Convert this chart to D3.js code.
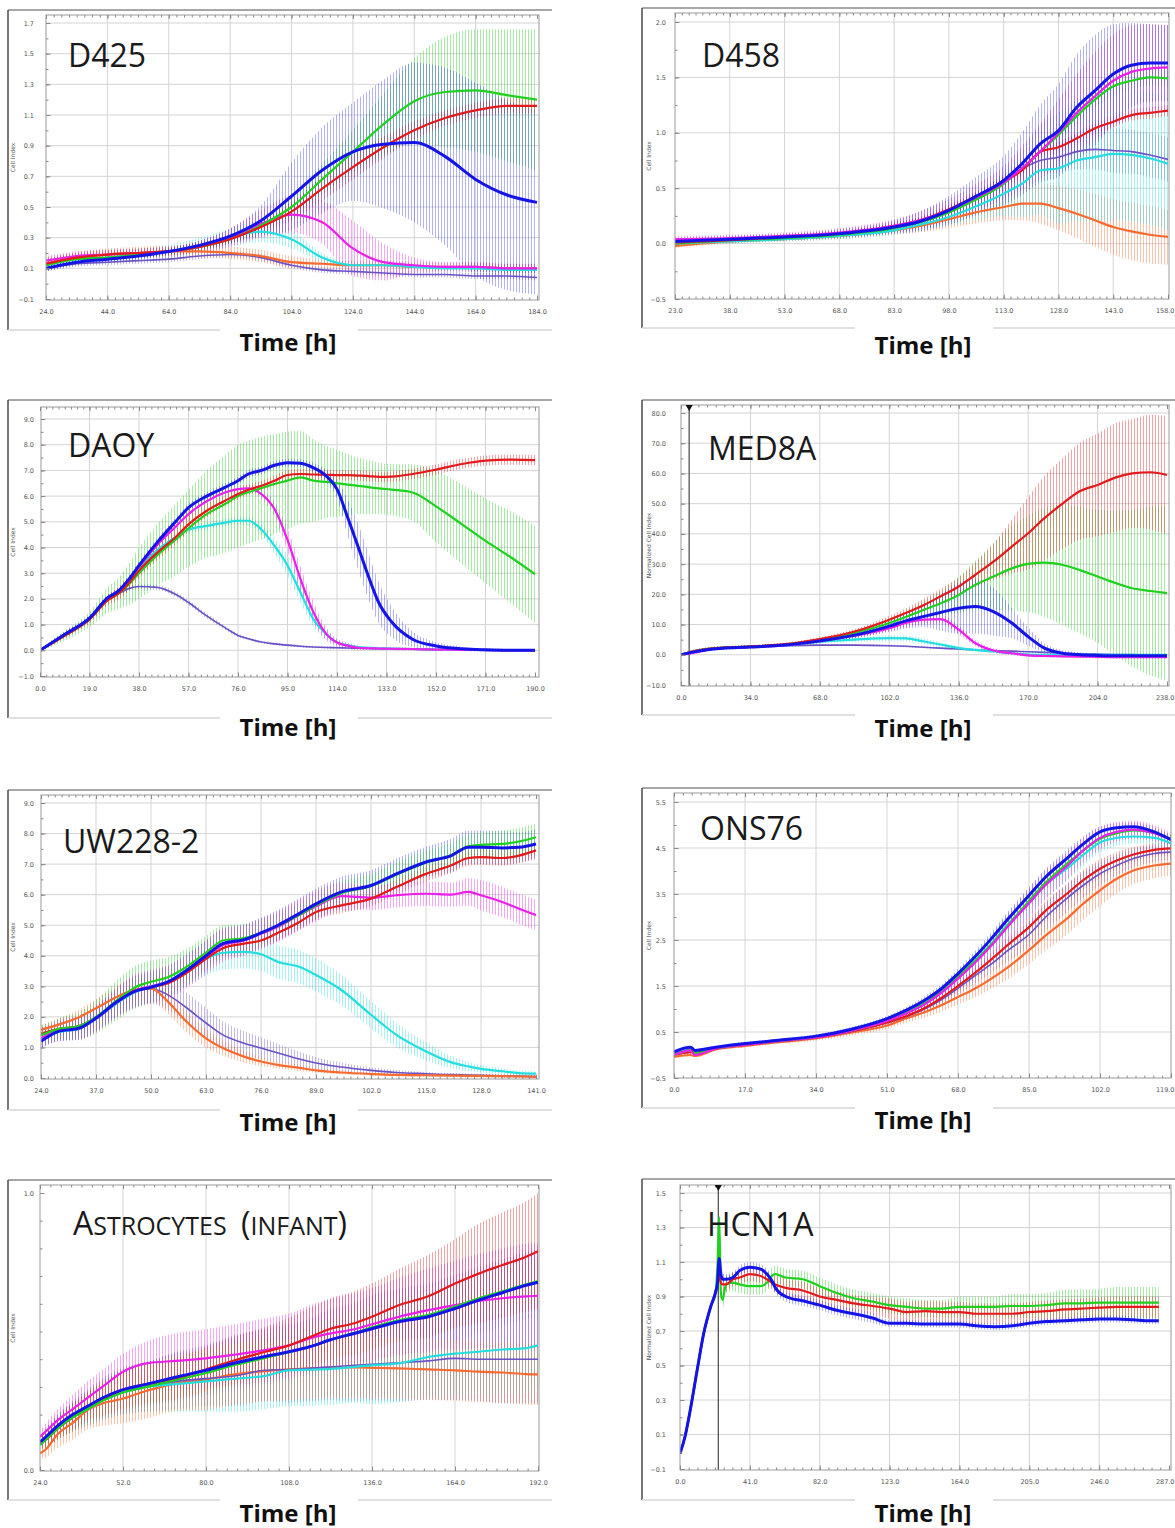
<!DOCTYPE html>
<html>
<head>
<meta charset="utf-8">
<script src="https://d3js.org/d3.v7.min.js"></script>
<style>
  body { margin: 0; background: #fff; }
</style>
</head>
<body>
<svg id="chart" width="1175" height="1528"></svg>
<script>

// Series colours
var seriesColors = {
    "red": "#e3191c",
    "green": "#1fd11f",
    "blue": "#1414e8",
    "magenta": "#ea1fea",
    "cyan": "#22dede",
    "purple": "#6a52c6",
    "orange": "#fa6a2e"
};
var lineWidths = {"red": 2.2, "green": 2.2, "blue": 3, "magenta": 2.2, "cyan": 2.2, "purple": 1.6, "orange": 2.2};

// ---------------- D425 ----------------
var d425Time = [24,34,44,54,64,74,84,94,104,114,124,134,144,154,164,174,184];
var d425XTicks = [24,44,64,84,104,124,144,164,184];
var d425YTicks = [-0.1,0.1,0.3,0.5,0.7,0.9,1.1,1.3,1.5,1.7];
var d425Blue = [0.10,0.14,0.16,0.18,0.21,0.25,0.31,0.41,0.57,0.74,0.86,0.91,0.92,0.83,0.68,0.58,0.53];
var d425BlueSd = [0.02,0.02,0.02,0.02,0.02,0.03,0.05,0.10,0.22,0.28,0.32,0.42,0.52,0.58,0.63,0.62,0.60];
var d425Green = [0.12,0.16,0.17,0.19,0.21,0.24,0.29,0.38,0.50,0.68,0.86,1.04,1.19,1.25,1.26,1.23,1.20];
var d425GreenSd = [0.02,0.02,0.02,0.02,0.02,0.02,0.03,0.04,0.06,0.10,0.14,0.20,0.28,0.36,0.40,0.43,0.46];
var d425Red = [0.13,0.17,0.19,0.20,0.21,0.24,0.29,0.37,0.47,0.62,0.76,0.89,1.00,1.08,1.13,1.16,1.16];
var d425RedSd = [0.03,0.03,0.03,0.03,0.03,0.03,0.03,0.04,0.06,0.08,0.08,0.07,0.06,0.05,0.05,0.05,0.05];
var d425Magenta = [0.15,0.18,0.19,0.20,0.21,0.24,0.30,0.39,0.45,0.40,0.23,0.14,0.12,0.11,0.11,0.10,0.10];
var d425MagentaSd = [0.03,0.03,0.03,0.03,0.03,0.04,0.06,0.09,0.12,0.14,0.18,0.12,0.05,0.03,0.03,0.03,0.03];
var d425Cyan = [0.12,0.16,0.17,0.19,0.21,0.25,0.30,0.34,0.29,0.17,0.12,0.12,0.11,0.10,0.10,0.09,0.09];
var d425CyanSd = [0.03,0.03,0.03,0.03,0.04,0.05,0.06,0.07,0.06,0.03,0.02,0.02,0.02,0.02,0.02,0.02,0.02];
var d425Orange = [0.13,0.17,0.19,0.20,0.21,0.21,0.20,0.18,0.14,0.13,0.12,0.12,0.11,0.11,0.11,0.10,0.10];
var d425OrangeSd = [0.04,0.04,0.04,0.04,0.04,0.04,0.04,0.04,0.04,0.03,0.03,0.03,0.03,0.03,0.03,0.03,0.03];
var d425Purple = [0.10,0.13,0.14,0.15,0.16,0.18,0.19,0.17,0.12,0.09,0.08,0.07,0.06,0.06,0.05,0.05,0.04];
var d425PurpleSd = [0.02,0.02,0.02,0.02,0.02,0.02,0.02,0.02,0.02,0.02,0.02,0.02,0.02,0.02,0.02,0.02,0.02];

// ---------------- D458 ----------------
var d458Time = [23,38,53,68,83,90,98,105,113,118,123,128,133,138,143,148,153,158];
var d458XTicks = [23,38,53,68,83,98,113,128,143,158];
var d458YTicks = [-0.5,0.0,0.5,1.0,1.5,2.0];
var d458Blue = [0.02,0.04,0.06,0.09,0.15,0.20,0.30,0.42,0.57,0.72,0.90,1.02,1.23,1.38,1.53,1.61,1.63,1.63];
var d458BlueSd = [0.03,0.03,0.03,0.04,0.06,0.09,0.13,0.17,0.22,0.28,0.35,0.42,0.48,0.50,0.45,0.38,0.35,0.34];
var d458Magenta = [0.04,0.05,0.07,0.10,0.16,0.21,0.30,0.41,0.55,0.68,0.83,1.00,1.18,1.33,1.47,1.55,1.58,1.59];
var d458MagentaSd = [0.03,0.03,0.03,0.04,0.06,0.08,0.10,0.12,0.15,0.20,0.25,0.30,0.35,0.40,0.42,0.42,0.40,0.38];
var d458Green = [0.00,0.03,0.05,0.08,0.14,0.19,0.28,0.39,0.54,0.68,0.83,0.98,1.15,1.30,1.42,1.47,1.50,1.49];
var d458GreenSd = [0.02,0.02,0.02,0.02,0.03,0.03,0.04,0.04,0.05,0.05,0.06,0.06,0.07,0.07,0.08,0.08,0.08,0.08];
var d458Red = [0.01,0.03,0.06,0.09,0.16,0.21,0.31,0.42,0.56,0.66,0.83,0.87,0.95,1.04,1.10,1.16,1.18,1.20];
var d458RedSd = [0.02,0.02,0.02,0.02,0.03,0.03,0.04,0.04,0.05,0.05,0.05,0.05,0.05,0.05,0.05,0.05,0.05,0.05];
var d458Purple = [0.02,0.04,0.06,0.09,0.15,0.20,0.29,0.40,0.55,0.67,0.75,0.78,0.83,0.85,0.84,0.83,0.80,0.76];
var d458PurpleSd = [0.02,0.02,0.02,0.03,0.03,0.04,0.05,0.06,0.08,0.10,0.12,0.14,0.16,0.18,0.20,0.20,0.20,0.20];
var d458Cyan = [0.00,0.02,0.04,0.07,0.12,0.17,0.24,0.33,0.45,0.54,0.66,0.68,0.75,0.78,0.81,0.80,0.77,0.72];
var d458CyanSd = [0.02,0.02,0.02,0.03,0.04,0.05,0.08,0.12,0.20,0.30,0.40,0.50,0.55,0.58,0.60,0.60,0.60,0.60];
var d458Orange = [-0.02,0.02,0.04,0.07,0.12,0.16,0.22,0.28,0.33,0.36,0.36,0.32,0.27,0.21,0.15,0.11,0.08,0.06];
var d458OrangeSd = [0.02,0.02,0.02,0.03,0.04,0.06,0.08,0.10,0.12,0.15,0.18,0.20,0.22,0.24,0.25,0.26,0.26,0.25];

// ---------------- DAOY ----------------
var daoyTime = [0,10,19,26,30,34,38,45,52,57,64,71,76,80,85,90,95,100,105,110,114,118,122,126,130,135,143,152,162,171,181,190];
var daoyXTicks = [0,19,38,57,76,95,114,133,152,171,190];
var daoyYTicks = [-1,0,1,2,3,4,5,6,7,8,9];
var daoyBlue = [0.0,0.65,1.25,2.05,2.3,2.75,3.3,4.2,5.0,5.55,6.0,6.34,6.6,6.86,7.0,7.2,7.3,7.28,7.1,6.77,6.27,5.2,4.06,2.9,1.86,1.1,0.43,0.17,0.06,0.02,0.0,0.0];
var daoyBlueSd = [0.05,0.1,0.1,0.1,0.1,0.1,0.15,0.15,0.15,0.15,0.15,0.15,0.15,0.15,0.15,0.15,0.15,0.15,0.2,0.25,0.35,0.7,0.9,0.9,0.8,0.6,0.3,0.15,0.08,0.05,0.05,0.05];
var daoyRed = [0.0,0.6,1.2,1.95,2.2,2.6,3.1,3.8,4.4,4.9,5.43,5.82,6.08,6.25,6.4,6.6,6.82,6.86,6.84,6.83,6.82,6.82,6.8,6.78,6.75,6.76,6.86,7.03,7.25,7.38,7.42,7.4];
var daoyRedSd = [0.05,0.1,0.15,0.2,0.25,0.3,0.3,0.3,0.3,0.3,0.25,0.2,0.2,0.2,0.2,0.2,0.2,0.2,0.2,0.2,0.2,0.2,0.2,0.2,0.2,0.2,0.2,0.2,0.2,0.2,0.2,0.2];
var daoyGreen = [0.0,0.6,1.2,1.95,2.2,2.55,3.0,3.7,4.3,4.75,5.3,5.69,6.0,6.15,6.31,6.47,6.6,6.73,6.6,6.55,6.5,6.45,6.4,6.35,6.3,6.25,6.14,5.6,4.9,4.26,3.6,2.96];
var daoyGreenSd = [0.05,0.2,0.3,0.5,0.6,0.8,1.0,1.2,1.4,1.5,1.7,1.9,2.0,2.0,2.0,1.95,1.9,1.8,1.6,1.4,1.3,1.2,1.1,1.05,1.0,1.0,1.1,1.4,1.55,1.65,1.8,1.9];
var daoyMagenta = [0.0,0.65,1.25,2.05,2.3,2.75,3.25,4.1,4.8,5.3,5.8,6.14,6.27,6.3,6.08,5.5,4.3,2.77,1.47,0.62,0.3,0.18,0.1,0.08,0.07,0.06,0.05,0.03,0.02,0.01,0.0,0.0];
var daoyMagentaSd = [0.05,0.1,0.1,0.1,0.1,0.12,0.15,0.15,0.15,0.15,0.15,0.15,0.15,0.15,0.2,0.3,0.45,0.5,0.4,0.25,0.15,0.1,0.08,0.05,0.05,0.05,0.05,0.05,0.05,0.05,0.05,0.05];
var daoyCyan = [0.0,0.65,1.25,2.05,2.3,2.7,3.2,3.9,4.4,4.7,4.84,4.97,5.04,5.04,4.7,4.06,3.3,2.25,1.2,0.62,0.3,0.2,0.12,0.1,0.08,0.07,0.05,0.03,0.02,0.01,0.0,0.0];
var daoyCyanSd = [0.05,0.1,0.1,0.1,0.1,0.12,0.15,0.15,0.15,0.15,0.15,0.15,0.15,0.15,0.2,0.3,0.4,0.4,0.3,0.2,0.12,0.1,0.08,0.05,0.05,0.05,0.05,0.05,0.05,0.05,0.05,0.05];
var daoyPurple = [0.0,0.65,1.25,2.0,2.2,2.4,2.48,2.45,2.18,1.86,1.34,0.88,0.58,0.45,0.32,0.25,0.2,0.16,0.13,0.11,0.1,0.09,0.08,0.07,0.06,0.06,0.04,0.03,0.02,0.01,0.0,0.0];
var daoyPurpleSd = [0.05,0.1,0.1,0.1,0.1,0.1,0.1,0.1,0.1,0.1,0.1,0.08,0.06,0.05,0.05,0.05,0.05,0.05,0.05,0.05,0.05,0.05,0.05,0.05,0.05,0.05,0.05,0.05,0.05,0.05,0.05,0.05];

// ---------------- MED8A ----------------
var med8aTime = [0,5,17,34,51,68,85,102,110,119,127,136,144,153,162,170,178,187,195,204,213,221,230,238];
var med8aXTicks = [0,34,68,102,136,170,204,238];
var med8aYTicks = [-10,0,10,20,30,40,50,60,70,80];
var med8aEvents = [4];
var med8aRed = [0,1.0,2.2,2.75,3.5,5.2,7.7,11.6,13.8,16.5,19.3,22.6,26.4,30.8,35.8,40.2,45.2,50.1,54.0,56.2,58.7,60.0,60.4,59.5];
var med8aRedSd = [0.5,0.5,0.5,0.5,0.5,0.6,0.8,1.2,1.5,2.0,2.5,3.0,4.0,6.0,9.0,12.0,14.0,15.0,16.0,17.0,18.0,18.0,19.0,19.5];
var med8aGreen = [0,1.0,2.2,2.7,3.4,5.0,7.2,10.5,12.5,14.9,17.0,19.8,23.1,25.9,28.6,30.1,30.5,29.7,28.1,25.9,23.7,22.0,21.1,20.4];
var med8aGreenSd = [0.5,0.5,0.5,0.5,0.5,0.6,0.8,1.2,2.0,3.0,4.0,6.0,8.0,11.0,14.0,16.0,18.0,20.0,21.0,22.0,24.0,26.0,28.0,29.0];
var med8aBlue = [0,0.8,2.0,2.6,3.2,4.6,6.5,9.5,11.2,12.7,14.0,15.4,16.0,14.3,10.5,6.0,2.2,0.5,0.0,-0.2,-0.3,-0.3,-0.3,-0.3];
var med8aBlueSd = [0.5,0.5,0.5,0.5,0.5,0.6,1.0,2.0,2.5,3.5,6.0,8.5,9.0,8.0,5.0,3.0,1.5,1.0,0.8,0.6,0.5,0.5,0.5,0.5];
var med8aMagenta = [0,0.5,2.0,2.6,3.2,4.5,6.3,8.8,10.5,11.6,11.8,8.3,3.9,1.4,0.5,-0.2,-0.4,-0.5,-0.6,-0.7,-0.8,-0.8,-0.8,-0.8];
var med8aMagentaSd = [0.5,0.5,0.5,0.5,0.5,0.6,0.8,1.0,1.5,1.5,1.5,1.5,1.0,0.8,0.6,0.5,0.5,0.5,0.5,0.5,0.5,0.5,0.5,0.5];
var med8aCyan = [0,0.7,2.0,2.6,3.3,4.3,5.0,5.5,5.4,4.4,3.4,2.2,1.6,1.1,0.5,0.1,0,0,0,0,0,0,0,0];
var med8aCyanSd = [0.5,0.5,0.5,0.5,0.5,0.6,0.8,1.0,1.0,1.0,0.8,0.6,0.5,0.5,0.5,0.5,0.5,0.5,0.5,0.5,0.5,0.5,0.5,0.5];
var med8aPurple = [0,0.7,2.0,2.5,3.0,3.2,3.2,3.0,2.8,2.5,2.2,1.9,1.6,1.4,1.2,1.0,0.8,0.5,0.3,0.2,0.1,0.05,0,0];
var med8aPurpleSd = [0.3,0.3,0.3,0.3,0.3,0.3,0.3,0.3,0.3,0.3,0.3,0.3,0.3,0.3,0.3,0.3,0.3,0.3,0.3,0.3,0.3,0.3,0.3,0.3];

// ---------------- UW228-2 ----------------
var uw228Time = [24,28,33,37,42,46,50,54,58,63,67,72,76,80,85,89,95,102,108,115,121,125,128,133,137,141];
var uw228XTicks = [24,37,50,63,76,89,102,115,128,141];
var uw228YTicks = [0,1,2,3,4,5,6,7,8,9];
var uw228Blue = [1.20,1.52,1.63,1.96,2.50,2.83,2.97,3.15,3.48,4.00,4.40,4.53,4.75,5.00,5.38,5.70,6.09,6.30,6.68,7.07,7.28,7.55,7.55,7.53,7.55,7.66];
var uw228BlueSd = [0.25,0.3,0.35,0.4,0.45,0.5,0.5,0.5,0.5,0.5,0.5,0.5,0.5,0.5,0.5,0.5,0.5,0.5,0.5,0.5,0.55,0.55,0.55,0.55,0.5,0.5];
var uw228Green = [1.40,1.60,1.70,2.00,2.55,2.95,3.15,3.30,3.60,4.10,4.50,4.58,4.75,4.98,5.33,5.65,6.05,6.28,6.65,7.05,7.30,7.58,7.63,7.66,7.74,7.88];
var uw228GreenSd = [0.3,0.35,0.45,0.55,0.65,0.7,0.7,0.65,0.6,0.55,0.5,0.45,0.45,0.4,0.4,0.4,0.4,0.4,0.4,0.4,0.4,0.4,0.4,0.45,0.45,0.45];
var uw228Red = [1.45,1.60,1.70,1.98,2.50,2.85,2.97,3.10,3.40,3.90,4.25,4.40,4.50,4.75,5.10,5.43,5.65,5.87,6.25,6.68,6.96,7.20,7.23,7.20,7.28,7.45];
var uw228RedSd = [0.2,0.2,0.25,0.3,0.3,0.3,0.3,0.3,0.3,0.3,0.25,0.25,0.25,0.25,0.25,0.25,0.25,0.25,0.25,0.25,0.25,0.25,0.25,0.25,0.25,0.25];
var uw228Magenta = [1.30,1.55,1.65,1.95,2.48,2.85,3.00,3.15,3.45,3.95,4.35,4.50,4.72,4.95,5.33,5.62,5.95,5.90,5.98,6.03,6.00,6.09,5.98,5.76,5.54,5.33];
var uw228MagentaSd = [0.3,0.35,0.4,0.45,0.5,0.55,0.55,0.55,0.55,0.55,0.55,0.5,0.5,0.5,0.5,0.5,0.45,0.4,0.4,0.4,0.4,0.45,0.5,0.5,0.5,0.5];
var uw228Cyan = [1.30,1.50,1.62,1.95,2.45,2.80,3.00,3.15,3.50,3.90,4.10,4.13,4.05,3.80,3.64,3.37,2.88,2.07,1.41,0.87,0.51,0.38,0.30,0.22,0.16,0.14];
var uw228CyanSd = [0.25,0.3,0.3,0.35,0.4,0.45,0.5,0.5,0.55,0.55,0.55,0.55,0.55,0.55,0.55,0.55,0.5,0.45,0.4,0.3,0.2,0.15,0.12,0.1,0.08,0.08];
var uw228Purple = [1.20,1.50,1.60,1.92,2.45,2.80,2.93,2.72,2.34,1.80,1.41,1.14,0.98,0.82,0.62,0.49,0.36,0.25,0.18,0.14,0.11,0.10,0.09,0.07,0.06,0.05];
var uw228PurpleSd = [0.2,0.3,0.35,0.4,0.45,0.5,0.5,0.5,0.5,0.5,0.45,0.4,0.35,0.3,0.25,0.2,0.15,0.1,0.08,0.06,0.05,0.05,0.05,0.05,0.05,0.05];
var uw228Orange = [1.58,1.74,1.99,2.28,2.66,2.88,2.93,2.50,1.90,1.30,0.98,0.70,0.54,0.43,0.33,0.25,0.18,0.13,0.10,0.09,0.08,0.07,0.07,0.06,0.05,0.04];
var uw228OrangeSd = [0.15,0.2,0.25,0.3,0.35,0.4,0.4,0.4,0.35,0.3,0.25,0.2,0.15,0.12,0.1,0.08,0.06,0.05,0.05,0.05,0.05,0.05,0.05,0.05,0.05,0.05];

// ---------------- ONS76 ----------------
var ons76Time = [0,4,5,10,17,25,34,42,51,56,60,64,68,72,76,80,85,89,94,98,102,106,110,115,119];
var ons76XTicks = [0,17,34,51,68,85,102,119];
var ons76YTicks = [-0.5,0.5,1.5,2.5,3.5,4.5,5.5];
var ons76Blue = [0.07,0.17,0.10,0.17,0.25,0.32,0.41,0.55,0.79,0.99,1.19,1.44,1.77,2.13,2.53,2.96,3.47,3.87,4.27,4.59,4.85,4.94,4.96,4.85,4.68];
var ons76BlueSd = [0.03,0.03,0.03,0.03,0.03,0.03,0.04,0.05,0.06,0.07,0.08,0.09,0.10,0.12,0.14,0.16,0.18,0.18,0.18,0.16,0.12,0.10,0.10,0.10,0.10];
var ons76Magenta = [0.00,0.10,0.00,0.14,0.22,0.30,0.38,0.52,0.74,0.92,1.10,1.35,1.66,2.00,2.38,2.80,3.30,3.70,4.10,4.45,4.72,4.85,4.90,4.82,4.68];
var ons76MagentaSd = [0.03,0.03,0.03,0.03,0.03,0.03,0.04,0.05,0.06,0.08,0.10,0.12,0.15,0.18,0.22,0.28,0.32,0.32,0.30,0.28,0.25,0.22,0.20,0.18,0.15];
var ons76Green = [0.00,0.10,0.05,0.15,0.23,0.30,0.39,0.53,0.75,0.93,1.12,1.37,1.70,2.03,2.40,2.82,3.35,3.75,4.15,4.45,4.70,4.82,4.88,4.83,4.70];
var ons76GreenSd = [0.03,0.03,0.03,0.03,0.03,0.03,0.04,0.04,0.05,0.06,0.07,0.08,0.09,0.10,0.12,0.14,0.15,0.15,0.15,0.14,0.12,0.10,0.10,0.10,0.10];
var ons76Cyan = [0.02,0.12,0.06,0.15,0.23,0.31,0.40,0.54,0.77,0.95,1.14,1.40,1.72,2.05,2.42,2.85,3.30,3.70,4.05,4.35,4.62,4.72,4.75,4.72,4.60];
var ons76CyanSd = [0.03,0.03,0.03,0.03,0.03,0.03,0.04,0.05,0.06,0.07,0.09,0.11,0.14,0.18,0.22,0.26,0.30,0.30,0.28,0.25,0.22,0.18,0.15,0.14,0.12];
var ons76Red = [0.00,0.06,0.05,0.14,0.22,0.30,0.38,0.51,0.71,0.86,1.02,1.24,1.50,1.78,2.08,2.40,2.78,3.14,3.50,3.80,4.05,4.23,4.36,4.46,4.49];
var ons76RedSd = [0.03,0.03,0.03,0.03,0.03,0.03,0.04,0.05,0.06,0.07,0.08,0.10,0.12,0.14,0.16,0.18,0.20,0.22,0.22,0.22,0.20,0.18,0.16,0.15,0.14];
var ons76Purple = [0.00,0.06,0.05,0.14,0.22,0.30,0.38,0.50,0.70,0.85,1.00,1.20,1.45,1.72,1.98,2.28,2.62,3.00,3.40,3.69,3.94,4.12,4.27,4.38,4.41];
var ons76PurpleSd = [0.03,0.03,0.03,0.03,0.03,0.03,0.04,0.05,0.06,0.08,0.10,0.12,0.14,0.17,0.20,0.24,0.28,0.30,0.30,0.28,0.25,0.22,0.20,0.18,0.16];
var ons76Orange = [-0.04,0.00,-0.02,0.12,0.20,0.28,0.36,0.48,0.64,0.81,0.93,1.08,1.26,1.44,1.66,1.91,2.28,2.60,2.96,3.29,3.58,3.83,4.01,4.12,4.16];
var ons76OrangeSd = [0.03,0.03,0.03,0.03,0.03,0.04,0.05,0.06,0.08,0.10,0.12,0.14,0.16,0.19,0.22,0.26,0.30,0.33,0.35,0.35,0.34,0.32,0.30,0.28,0.26];

// ---------------- Astrocytes (infant) ----------------
var astroTime = [24,26,30,35,40,45,52,60,70,80,90,100,108,115,122,130,136,145,155,164,172,180,188,192];
var astroXTicks = [24,52,80,108,136,164,192];
var astroYTicks = [0,1];
var astroMagenta = [0.12,0.14,0.18,0.22,0.26,0.30,0.355,0.385,0.394,0.403,0.417,0.433,0.45,0.475,0.493,0.508,0.526,0.553,0.577,0.595,0.61,0.62,0.627,0.629];
var astroMagentaSd = [0.02,0.03,0.04,0.05,0.06,0.06,0.065,0.08,0.1,0.105,0.11,0.115,0.115,0.12,0.125,0.13,0.13,0.14,0.15,0.16,0.17,0.18,0.19,0.19];
var astroRed = [0.096,0.11,0.15,0.19,0.23,0.255,0.29,0.31,0.33,0.363,0.397,0.427,0.45,0.48,0.51,0.53,0.553,0.595,0.627,0.673,0.709,0.74,0.77,0.79];
var astroRedSd = [0.02,0.03,0.04,0.05,0.05,0.06,0.07,0.07,0.075,0.08,0.085,0.09,0.1,0.105,0.11,0.115,0.12,0.13,0.15,0.16,0.18,0.19,0.2,0.21];
var astroBlue = [0.10,0.12,0.16,0.20,0.23,0.26,0.29,0.31,0.336,0.36,0.387,0.41,0.427,0.445,0.47,0.493,0.51,0.535,0.553,0.583,0.613,0.64,0.667,0.678];
var astroBlueSd = [0.02,0.03,0.04,0.05,0.06,0.07,0.08,0.08,0.09,0.09,0.1,0.1,0.1,0.1,0.11,0.11,0.12,0.12,0.12,0.12,0.12,0.12,0.12,0.12];
var astroGreen = [0.09,0.11,0.15,0.19,0.22,0.25,0.28,0.30,0.325,0.35,0.38,0.405,0.425,0.445,0.47,0.495,0.515,0.54,0.56,0.59,0.62,0.645,0.67,0.682];
var astroGreenSd = [0.02,0.03,0.04,0.05,0.05,0.06,0.06,0.07,0.07,0.07,0.08,0.08,0.08,0.08,0.08,0.08,0.08,0.08,0.08,0.08,0.08,0.08,0.08,0.08];
var astroCyan = [0.09,0.11,0.15,0.19,0.22,0.25,0.28,0.30,0.31,0.32,0.33,0.34,0.36,0.362,0.365,0.372,0.378,0.385,0.408,0.42,0.427,0.435,0.44,0.45];
var astroCyanSd = [0.02,0.03,0.04,0.05,0.06,0.07,0.08,0.09,0.1,0.11,0.12,0.12,0.13,0.13,0.13,0.13,0.14,0.14,0.14,0.15,0.15,0.16,0.16,0.16];
var astroPurple = [0.10,0.12,0.16,0.19,0.22,0.25,0.28,0.30,0.32,0.33,0.34,0.36,0.363,0.367,0.372,0.378,0.382,0.387,0.394,0.403,0.40,0.40,0.40,0.40];
var astroPurpleSd = [0.02,0.03,0.04,0.05,0.06,0.07,0.08,0.09,0.1,0.1,0.11,0.11,0.12,0.12,0.12,0.13,0.13,0.14,0.14,0.15,0.15,0.16,0.16,0.16];
var astroOrange = [0.06,0.075,0.13,0.17,0.216,0.24,0.258,0.286,0.313,0.327,0.346,0.357,0.363,0.367,0.37,0.37,0.369,0.367,0.363,0.36,0.355,0.352,0.346,0.345];
var astroOrangeSd = [0.02,0.03,0.05,0.06,0.07,0.08,0.09,0.1,0.1,0.11,0.11,0.11,0.11,0.11,0.11,0.11,0.11,0.11,0.11,0.11,0.11,0.11,0.11,0.11];

// ---------------- HCN1A ----------------
var hcn1aTime = [0,3,6,10,14,18,21,22,23,24,25,27,31,35,41,47,51,54,56,62,72,82,92,102,113,123,133,144,154,164,174,185,195,205,215,226,236,246,256,266,276,281];
var hcn1aXTicks = [0,41,82,123,164,205,246,287];
var hcn1aYTicks = [-0.1,0.1,0.3,0.5,0.7,0.9,1.1,1.3,1.5];
var hcn1aEvents = [22.5];
var hcn1aBlue = [-0.01,0.09,0.24,0.47,0.69,0.84,0.93,0.98,1.12,1.03,1.00,1.00,1.01,1.05,1.07,1.06,1.03,0.99,0.95,0.90,0.875,0.85,0.82,0.80,0.775,0.745,0.745,0.74,0.74,0.74,0.73,0.725,0.73,0.745,0.755,0.76,0.765,0.77,0.77,0.765,0.76,0.76];
var hcn1aBlueSd = [0.02,0.02,0.02,0.02,0.02,0.02,0.02,0.03,0.05,0.04,0.03,0.03,0.03,0.03,0.03,0.03,0.03,0.03,0.03,0.03,0.03,0.03,0.03,0.03,0.03,0.02,0.02,0.02,0.02,0.02,0.02,0.02,0.02,0.02,0.02,0.02,0.02,0.02,0.02,0.02,0.02,0.02];
var hcn1aRed = [-0.01,0.09,0.24,0.47,0.69,0.84,0.93,0.97,1.02,0.98,0.97,0.97,1.00,1.01,1.03,1.02,1.00,0.98,0.97,0.95,0.935,0.90,0.88,0.86,0.845,0.83,0.81,0.815,0.81,0.81,0.80,0.80,0.80,0.81,0.815,0.825,0.83,0.835,0.84,0.84,0.84,0.84];
var hcn1aRedSd = [0.02,0.02,0.02,0.02,0.02,0.02,0.02,0.04,0.05,0.04,0.04,0.04,0.04,0.04,0.04,0.04,0.04,0.04,0.05,0.05,0.05,0.05,0.05,0.05,0.05,0.06,0.06,0.06,0.06,0.06,0.06,0.06,0.06,0.06,0.06,0.06,0.06,0.06,0.06,0.06,0.06,0.06];
var hcn1aGreen = [-0.01,0.09,0.24,0.47,0.69,0.84,0.93,1.08,1.36,0.92,0.88,0.97,0.98,0.97,0.96,0.96,0.98,1.02,1.03,1.01,1.00,0.96,0.92,0.89,0.87,0.85,0.84,0.83,0.83,0.84,0.84,0.84,0.845,0.845,0.85,0.86,0.86,0.865,0.865,0.865,0.865,0.865];
var hcn1aGreenSd = [0.02,0.02,0.02,0.02,0.02,0.02,0.02,0.08,0.08,0.06,0.05,0.05,0.05,0.05,0.05,0.05,0.05,0.05,0.05,0.05,0.05,0.05,0.05,0.05,0.05,0.05,0.05,0.05,0.05,0.06,0.06,0.06,0.07,0.07,0.07,0.08,0.08,0.08,0.09,0.09,0.09,0.09];

// Panel layout (page pixels), built from the arrays above
var panels = [
    {title: "D425", time: d425Time, xTicks: d425XTicks, yTicks: d425YTicks, yMinor: 0.1, yLabel: "Cell Index",
     series: [["purple", d425Purple, d425PurpleSd], ["orange", d425Orange, d425OrangeSd], ["cyan", d425Cyan, d425CyanSd],
              ["magenta", d425Magenta, d425MagentaSd], ["green", d425Green, d425GreenSd], ["red", d425Red, d425RedSd], ["blue", d425Blue, d425BlueSd]],
     frame: [8, 552, 10, 330], box: [46, 539, 15, 300], xRange: [46, 537], yRange: [299, 23], titlePos: [68, 67], timeY: 351, events: []},
    {title: "D458", time: d458Time, xTicks: d458XTicks, yTicks: d458YTicks, yMinor: 0.25, yLabel: "Cell Index",
     series: [["purple", d458Purple, d458PurpleSd], ["orange", d458Orange, d458OrangeSd], ["cyan", d458Cyan, d458CyanSd],
              ["green", d458Green, d458GreenSd], ["red", d458Red, d458RedSd], ["magenta", d458Magenta, d458MagentaSd], ["blue", d458Blue, d458BlueSd]],
     frame: [642, 1175, 8, 328], box: [675, 1169, 13, 299], xRange: [675, 1168], yRange: [299, 22], titlePos: [702, 67], timeY: 354, events: []},
    {title: "DAOY", time: daoyTime, xTicks: daoyXTicks, yTicks: daoyYTicks, yMinor: 0.5, yLabel: "Cell Index",
     series: [["purple", daoyPurple, daoyPurpleSd], ["cyan", daoyCyan, daoyCyanSd], ["magenta", daoyMagenta, daoyMagentaSd],
              ["green", daoyGreen, daoyGreenSd], ["red", daoyRed, daoyRedSd], ["blue", daoyBlue, daoyBlueSd]],
     frame: [8, 552, 400, 718], box: [41, 539, 407, 677], xRange: [40, 535], yRange: [676, 419], titlePos: [68, 457], timeY: 736, events: []},
    {title: "MED8A", time: med8aTime, xTicks: med8aXTicks, yTicks: med8aYTicks, yMinor: 5, yLabel: "Normalized Cell Index",
     series: [["purple", med8aPurple, med8aPurpleSd], ["cyan", med8aCyan, med8aCyanSd], ["magenta", med8aMagenta, med8aMagentaSd],
              ["green", med8aGreen, med8aGreenSd], ["red", med8aRed, med8aRedSd], ["blue", med8aBlue, med8aBlueSd]],
     frame: [642, 1175, 400, 715], box: [681, 1169, 405, 686], xRange: [681, 1167], yRange: [685, 413], titlePos: [708, 460], timeY: 737, events: med8aEvents},
    {title: "UW228-2", time: uw228Time, xTicks: uw228XTicks, yTicks: uw228YTicks, yMinor: 0.5, yLabel: "Cell Index",
     series: [["purple", uw228Purple, uw228PurpleSd], ["orange", uw228Orange, uw228OrangeSd], ["cyan", uw228Cyan, uw228CyanSd],
              ["magenta", uw228Magenta, uw228MagentaSd], ["red", uw228Red, uw228RedSd], ["green", uw228Green, uw228GreenSd], ["blue", uw228Blue, uw228BlueSd]],
     bandOrder: ["blue", "red", "purple", "orange", "cyan", "green", "magenta"],
     frame: [8, 552, 790, 1110], box: [41, 539, 795, 1079], xRange: [41, 536], yRange: [1078, 803], titlePos: [63, 853], timeY: 1131, events: []},
    {title: "ONS76", time: ons76Time, xTicks: ons76XTicks, yTicks: ons76YTicks, yMinor: 0.5, yLabel: "Cell Index",
     series: [["orange", ons76Orange, ons76OrangeSd], ["purple", ons76Purple, ons76PurpleSd], ["red", ons76Red, ons76RedSd],
              ["cyan", ons76Cyan, ons76CyanSd], ["green", ons76Green, ons76GreenSd], ["magenta", ons76Magenta, ons76MagentaSd], ["blue", ons76Blue, ons76BlueSd]],
     bandOrder: ["blue", "green", "red", "purple", "orange", "cyan", "magenta"],
     frame: [642, 1175, 788, 1108], box: [674, 1171, 793, 1078], xRange: [674, 1171], yRange: [1078, 802], titlePos: [700, 840], timeY: 1129, events: []},
    {title: "ASTRO", time: astroTime, xTicks: astroXTicks, yTicks: astroYTicks, yMinor: 0.1, yLabel: "Cell Index", noHGrid: true,
     series: [["orange", astroOrange, astroOrangeSd], ["purple", astroPurple, astroPurpleSd], ["cyan", astroCyan, astroCyanSd],
              ["magenta", astroMagenta, astroMagentaSd], ["red", astroRed, astroRedSd], ["green", astroGreen, astroGreenSd], ["blue", astroBlue, astroBlueSd]],
     bandOrder: ["blue", "green", "purple", "cyan", "magenta", "red", "orange"],
     frame: [8, 552, 1180, 1500], box: [40, 539, 1185, 1471], xRange: [40, 538], yRange: [1470, 1193], titlePos: [73, 1235], timeY: 1522, events: []},
    {title: "HCN1A", time: hcn1aTime, xTicks: hcn1aXTicks, yTicks: hcn1aYTicks, yMinor: 0.1, yLabel: "Normalized Cell Index",
     series: [["green", hcn1aGreen, hcn1aGreenSd], ["red", hcn1aRed, hcn1aRedSd], ["blue", hcn1aBlue, hcn1aBlueSd]],
     frame: [642, 1175, 1179, 1500], box: [680, 1171, 1185, 1470], xRange: [680, 1169], yRange: [1469, 1193], titlePos: [707, 1236], timeY: 1522, events: hcn1aEvents}
];

var svg = d3.select("#chart");
var defs = svg.append("defs");
var fmt = d3.format(".1f");

// Hatch patterns for the error bars (all series share the same bar positions)
Object.keys(seriesColors).forEach(function (name) {
    var pat = defs.append("pattern")
        .attr("id", "hatch-" + name)
        .attr("patternUnits", "userSpaceOnUse")
        .attr("width", 3)
        .attr("height", 4);
    pat.append("line")
        .attr("x1", 0.5).attr("x2", 0.5)
        .attr("y1", 0).attr("y2", 4)
        .attr("stroke", seriesColors[name])
        .attr("stroke-width", 1)
        .attr("stroke-opacity", name === "blue" ? 0.33 : 0.4);
});

// Draw one panel
var drawPanel = function (p, idx) {

    var g = svg.append("g");
    var box = p.box, frame = p.frame;
    var x = d3.scaleLinear().domain([p.xTicks[0], p.xTicks[p.xTicks.length - 1]]).range(p.xRange);
    var y = d3.scaleLinear().domain([p.yTicks[0], p.yTicks[p.yTicks.length - 1]]).range(p.yRange);
    var isLeft = frame[0] < 300;
    var mid = isLeft ? 288 : 923;

    // Screenshot frame
    g.append("line").attr("x1", frame[0]).attr("x2", frame[1]).attr("y1", frame[2]).attr("y2", frame[2])
        .attr("stroke", "#8a8a8a").attr("stroke-width", 1.5);
    g.append("line").attr("x1", frame[0]).attr("x2", frame[0]).attr("y1", frame[2]).attr("y2", frame[3])
        .attr("stroke", "#4a4a4a").attr("stroke-width", 1.5);
    g.append("line").attr("x1", frame[0]).attr("x2", mid - 68).attr("y1", frame[3]).attr("y2", frame[3])
        .attr("stroke", "#d6d6d6").attr("stroke-width", 1.5);
    g.append("line").attr("x1", mid + 70).attr("x2", frame[1]).attr("y1", frame[3]).attr("y2", frame[3])
        .attr("stroke", "#d6d6d6").attr("stroke-width", 1.5);

    // Gridlines
    g.append("g").selectAll("line").data(p.xTicks.slice(1, -1)).enter().append("line")
        .attr("x1", function (d) { return x(d); }).attr("x2", function (d) { return x(d); })
        .attr("y1", box[2]).attr("y2", box[3])
        .attr("stroke", "#d4d4d4").attr("stroke-width", 1);
    if (!p.noHGrid) {
        g.append("g").selectAll("line").data(p.yTicks.slice(1)).enter().append("line")
            .attr("x1", box[0]).attr("x2", box[1])
            .attr("y1", function (d) { return y(d); }).attr("y2", function (d) { return y(d); })
            .attr("stroke", "#d4d4d4").attr("stroke-width", 1);
    }

    // Clip to plot box
    defs.append("clipPath").attr("id", "clip-" + idx)
        .append("rect").attr("x", box[0]).attr("y", box[2]).attr("width", box[1] - box[0]).attr("height", box[3] - box[2]);
    var plot = g.append("g").attr("clip-path", "url(#clip-" + idx + ")");

    // Event markers
    plot.selectAll(".event").data(p.events).enter().append("line")
        .attr("class", "event")
        .attr("x1", function (d) { return x(d); }).attr("x2", function (d) { return x(d); })
        .attr("y1", box[2]).attr("y2", box[3])
        .attr("stroke", "#555").attr("stroke-width", 1.3);

    var idxs = d3.range(p.time.length);

    // Error bands (hatched), optionally in their own stacking order
    var bands = p.series.slice();
    if (p.bandOrder) {
        bands.sort(function (a, b) { return p.bandOrder.indexOf(a[0]) - p.bandOrder.indexOf(b[0]); });
    }
    bands.forEach(function (s) {
        var vals = s[1], sd = s[2];
        var area = d3.area()
            .x(function (i) { return x(p.time[i]); })
            .y0(function (i) { return y(vals[i] - sd[i]); })
            .y1(function (i) { return y(vals[i] + sd[i]); })
            .curve(d3.curveMonotoneX);
        plot.append("path").datum(idxs)
            .attr("d", area)
            .attr("fill", "url(#hatch-" + s[0] + ")");
    });

    // Mean curves
    p.series.forEach(function (s) {
        var vals = s[1];
        var line = d3.line()
            .x(function (d, i) { return x(p.time[i]); })
            .y(function (d) { return y(d); })
            .curve(d3.curveMonotoneX);
        plot.append("path").datum(vals)
            .attr("d", line)
            .attr("fill", "none")
            .attr("stroke", seriesColors[s[0]])
            .attr("stroke-width", lineWidths[s[0]])
            .attr("stroke-linejoin", "round");
    });

    // Plot box
    g.append("rect").attr("x", box[0]).attr("y", box[2]).attr("width", box[1] - box[0]).attr("height", box[3] - box[2])
        .attr("fill", "none").attr("stroke", "#9a9a9a").attr("stroke-width", 1);

    // Minor tick values
    var xStep = (p.xTicks[1] - p.xTicks[0]) / 8;
    var xMinor = d3.range(p.xTicks[0], p.xTicks[p.xTicks.length - 1] + xStep / 2, xStep);
    var yMinor = d3.range(p.yTicks[0], p.yTicks[p.yTicks.length - 1] + p.yMinor / 2, p.yMinor);

    // Bottom axis
    var bottom = g.append("g").attr("transform", "translate(0," + box[3] + ")");
    bottom.append("g").call(d3.axisBottom(x).tickValues(xMinor).tickSize(-2.5).tickFormat(""));
    var xLabels = bottom.append("g").call(d3.axisBottom(x).tickValues(p.xTicks).tickSize(-4.5).tickPadding(9).tickFormat(fmt));
    // Top axis
    var top = g.append("g").attr("transform", "translate(0," + box[2] + ")");
    top.append("g").call(d3.axisTop(x).tickValues(xMinor).tickSize(-2.5).tickFormat(""));
    top.append("g").call(d3.axisTop(x).tickValues(p.xTicks).tickSize(-4).tickFormat(""));
    // Left axis
    var labelEnd = isLeft ? 34 : 666;
    var left = g.append("g").attr("transform", "translate(" + box[0] + ",0)");
    left.append("g").call(d3.axisLeft(y).tickValues(yMinor).tickSize(-2.5).tickFormat(""));
    left.append("g").call(d3.axisLeft(y).tickValues(p.yTicks).tickSize(-4.5).tickPadding(box[0] - labelEnd).tickFormat(fmt));

    g.selectAll(".domain").remove();
    g.selectAll(".tick line").attr("stroke", "#8a8a8a");
    g.selectAll(".tick text").attr("fill", "#555").style("font-family", "DejaVu Sans").style("font-size", "6.5px");

    // Keep the last x label inside the page
    xLabels.selectAll(".tick text").each(function (d) {
        if (x(d) + 9 > 1174) {
            d3.select(this).attr("text-anchor", "end").attr("x", 1174 - x(d));
        }
    });

    // Y axis title
    var yTitleX = isLeft ? 15 : 651;
    g.append("text")
        .attr("transform", "translate(" + yTitleX + "," + ((box[2] + box[3]) / 2) + ") rotate(-90)")
        .attr("text-anchor", "middle")
        .style("font-family", "DejaVu Sans").style("font-size", "6px").attr("fill", "#555")
        .text(p.yLabel);

    // Event triangles
    g.selectAll(".evmark").data(p.events).enter().append("path")
        .attr("class", "evmark")
        .attr("d", d3.symbol(d3.symbolTriangle, 22))
        .attr("transform", function (d) { return "translate(" + x(d) + "," + (box[2] + 2) + ") rotate(180)"; })
        .attr("fill", "#111");

    // Panel title
    var t = g.append("text").attr("x", p.titlePos[0]).attr("y", p.titlePos[1])
        .style("font-family", "Open Sans").attr("fill", "#1a1a1a");
    if (p.title === "ASTRO") {
        t.append("tspan").style("font-size", "32px").text("A");
        t.append("tspan").style("font-size", "25px").text("STROCYTES");
        t.append("tspan").style("font-size", "32px").attr("dx", 6).text(" (");
        t.append("tspan").style("font-size", "25px").text("INFANT");
        t.append("tspan").style("font-size", "32px").text(")");
    } else {
        t.style("font-size", "32px").text(p.title);
    }

    // X axis title
    g.append("text").attr("x", mid).attr("y", p.timeY)
        .attr("text-anchor", "middle")
        .style("font-family", "Open Sans").style("font-weight", "bold").style("font-size", "24px")
        .attr("fill", "#111")
        .text("Time [h]");
};

// Create all panels
panels.forEach(function (p, i) { drawPanel(p, i); });

</script>
</body>
</html>
